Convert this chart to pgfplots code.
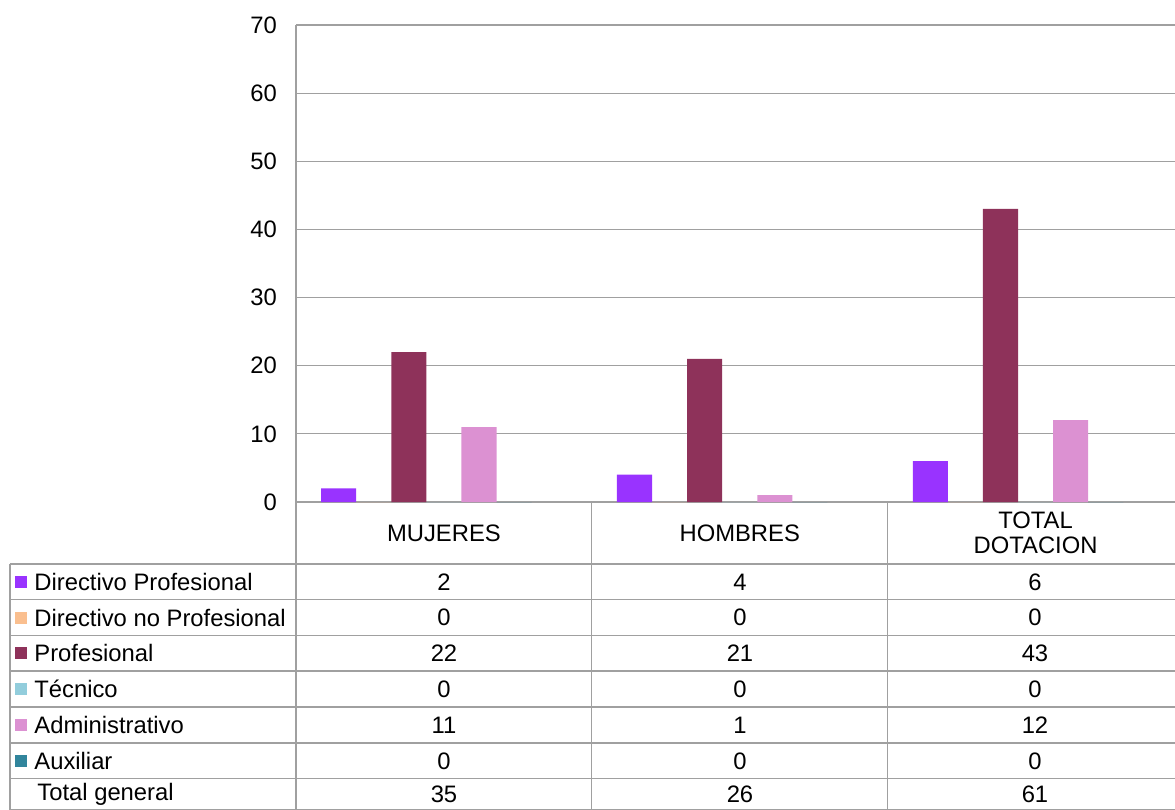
\documentclass[border=0pt]{standalone}
\usepackage{pgfplots}
\pgfplotsset{compat=1.18}
\usepackage{fontspec}
\setmainfont{Liberation Sans}
\definecolor{dirprof}{RGB}{153,51,255}
\definecolor{dirnoprof}{RGB}{250,191,143}
\definecolor{prof}{RGB}{142,50,90}
\definecolor{tecnico}{RGB}{146,205,220}
\definecolor{admin}{RGB}{220,145,210}
\definecolor{auxiliar}{RGB}{49,133,156}
\definecolor{gridgray}{RGB}{160,160,160}
\newcommand{\tfont}{\fontsize{11.9}{12.5}\selectfont}
\begin{document}
\begin{tikzpicture}
\useasboundingbox (-148pt,-154pt) rectangle (439.5pt,251pt);
\clip (-148pt,-154pt) rectangle (439.5pt,251pt);
\begin{axis}[
  at={(0,0)}, anchor=south west,
  scale only axis, width=443.75pt, height=238.5pt,
  ybar=0pt, bar width=0.1186,
  xmin=-0.5, xmax=2.5, ymin=0, ymax=70,
  ytick={0,10,...,70},
  xtick={0,1,2},
  xticklabels={MUJERES,HOMBRES,{TOTAL\\DOTACION}},
  xticklabel style={anchor=center, yshift=-15.5pt, align=center, font=\tfont},
  yticklabel style={font=\tfont, xshift=-6pt},
  /pgf/number format/assume math mode=true,
  major tick length=0pt,
  axis x line*=bottom, axis y line*=left,
  axis line style={gridgray, line width=0.6pt, -},
  ymajorgrids, grid style={gridgray, line width=0.6pt},
]
\addplot[fill=dirprof, draw=none] coordinates {(0,2) (1,4) (2,6)};
\addplot[fill=dirnoprof, draw=none] coordinates {(0,0) (1,0) (2,0)};
\addplot[fill=prof, draw=none] coordinates {(0,22) (1,21) (2,43)};
\addplot[fill=tecnico, draw=none] coordinates {(0,0) (1,0) (2,0)};
\addplot[fill=admin, draw=none] coordinates {(0,11) (1,1) (2,12)};
\addplot[fill=auxiliar, draw=none] coordinates {(0,0) (1,0) (2,0)};
\addplot[fill=none, draw=none] coordinates {(0,35) (1,26) (2,61)};
\end{axis}
\begin{scope}[x=0.5pt, y=-0.5pt, shift={(-148pt,251pt)}]
  % table lines
  \draw[gridgray, line width=0.6pt] (296,502) -- (296,810);
  \foreach \vx in {591.8,887.5} \draw[gridgray, line width=0.6pt] (\vx,502) -- (\vx,810);
  \draw[gridgray, line width=0.6pt] (10,564) -- (10,810);
  \foreach \hy in {564,599.5,635.5,671,707,743,778.5,809.5}
    \draw[gridgray, line width=0.6pt] (10,\hy) -- (1175,\hy);
  % row labels with legend keys
  \foreach \yy/\col/\lab in {582/dirprof/Directivo Profesional,617.5/dirnoprof/Directivo no Profesional,653/prof/Profesional,689/tecnico/Técnico,725/admin/Administrativo,761/auxiliar/Auxiliar}{
    \fill[\col] (15,\yy-6) rectangle (27,\yy+6);
    \node[anchor=west, inner sep=0pt, font=\tfont] at (34,\yy) {\lab};
  }
  \node[anchor=west, inner sep=0pt, font=\tfont] at (37,794) {Total general};
  % values
  \foreach \yy/\a/\b/\c in {582/2/4/6,617.5/0/0/0,653/22/21/43,689/0/0/0,725/11/1/12,761/0/0/0,794/35/26/61}{
    \node[font=\tfont] at (444,\yy) {\a};
    \node[font=\tfont] at (740,\yy) {\b};
    \node[font=\tfont] at (1035,\yy) {\c};
  }
\end{scope}
\end{tikzpicture}
\end{document}
